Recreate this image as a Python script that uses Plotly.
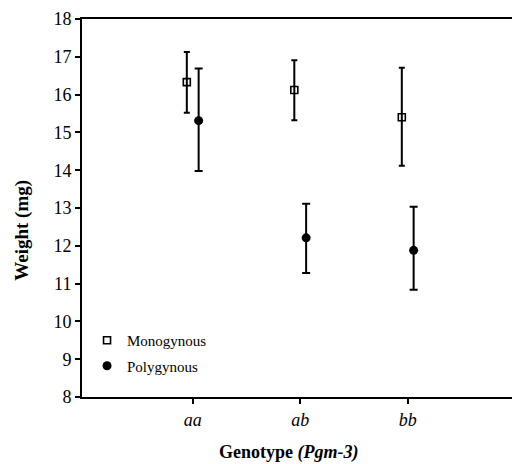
import plotly.graph_objects as go

genotypes = ["aa", "ab", "bb"]
mono_mean = [16.33, 16.12, 15.40]
mono_upper = [17.13, 16.91, 16.71]
mono_lower = [15.52, 15.32, 14.12]
poly_mean = [15.31, 12.21, 11.88]
poly_upper = [16.69, 13.11, 13.03]
poly_lower = [13.98, 11.28, 10.84]

pos = [1, 2, 3]
off = 0.055
font = "Liberation Serif"

fig = go.Figure()
fig.add_trace(go.Scatter(
    x=[p - off for p in pos], y=mono_mean, mode="markers", name="Monogynous",
    legendgroup="m",
    marker=dict(symbol="square-open", size=7, color="black", line=dict(width=1.6, color="black")),
    error_y=dict(type="data", symmetric=False,
                 array=[u - m for u, m in zip(mono_upper, mono_mean)],
                 arrayminus=[m - l for m, l in zip(mono_mean, mono_lower)],
                 color="black", thickness=2, width=3),
))
fig.add_trace(go.Scatter(
    x=[p + off for p in pos], y=poly_mean, mode="markers", name="Polygynous",
    legendgroup="p",
    marker=dict(symbol="circle", size=9, color="black"),
    error_y=dict(type="data", symmetric=False,
                 array=[u - m for u, m in zip(poly_upper, poly_mean)],
                 arrayminus=[m - l for m, l in zip(poly_mean, poly_lower)],
                 color="black", thickness=2, width=4),
))

fig.update_layout(
    width=515, height=464,
    margin=dict(l=82, r=3, t=19, b=67, autoexpand=False),
    paper_bgcolor="white", plot_bgcolor="white",
    font=dict(family=font, size=18, color="black"),
    showlegend=True,
    legend=dict(x=0.0117, y=0.193, xanchor="left", yanchor="top",
                bgcolor="rgba(0,0,0,0)", font=dict(family=font, size=15, color="black"),
                itemwidth=30, tracegroupgap=3),
    xaxis=dict(range=[-0.03, 3.97], tickvals=pos,
               ticktext=[f"<i>{g}</i>" for g in genotypes],
               showline=True, linecolor="black", linewidth=2, mirror=True,
               ticks="outside", ticklen=5, tickwidth=1.5, tickcolor="black",
               showgrid=False, zeroline=False, automargin=False,
               tickfont=dict(family=font, size=18)),
    yaxis=dict(range=[8, 18], dtick=1, showline=True, linecolor="black", linewidth=2,
               mirror=False,
               ticks="outside", ticklen=5, tickwidth=1.5, tickcolor="black",
               showgrid=False, zeroline=False, automargin=False,
               tickfont=dict(family=font, size=18)),
    annotations=[
        dict(text="<b>Genotype <i>(Pgm-3)</i></b>", xref="paper", yref="paper",
             x=0.481, y=-0.148, xanchor="center", yanchor="middle", showarrow=False,
             font=dict(family=font, size=18, color="black")),
        dict(text="<b>Weight (mg)</b>", xref="paper", yref="paper",
             x=-0.1395, y=0.44, xanchor="center", yanchor="middle", showarrow=False,
             textangle=-90, font=dict(family=font, size=19, color="black")),
    ],
)

fig.write_html("out.html", config={"displayModeBar": False},
               post_script="document.body.style.margin='0';document.body.style.overflow='hidden';")
